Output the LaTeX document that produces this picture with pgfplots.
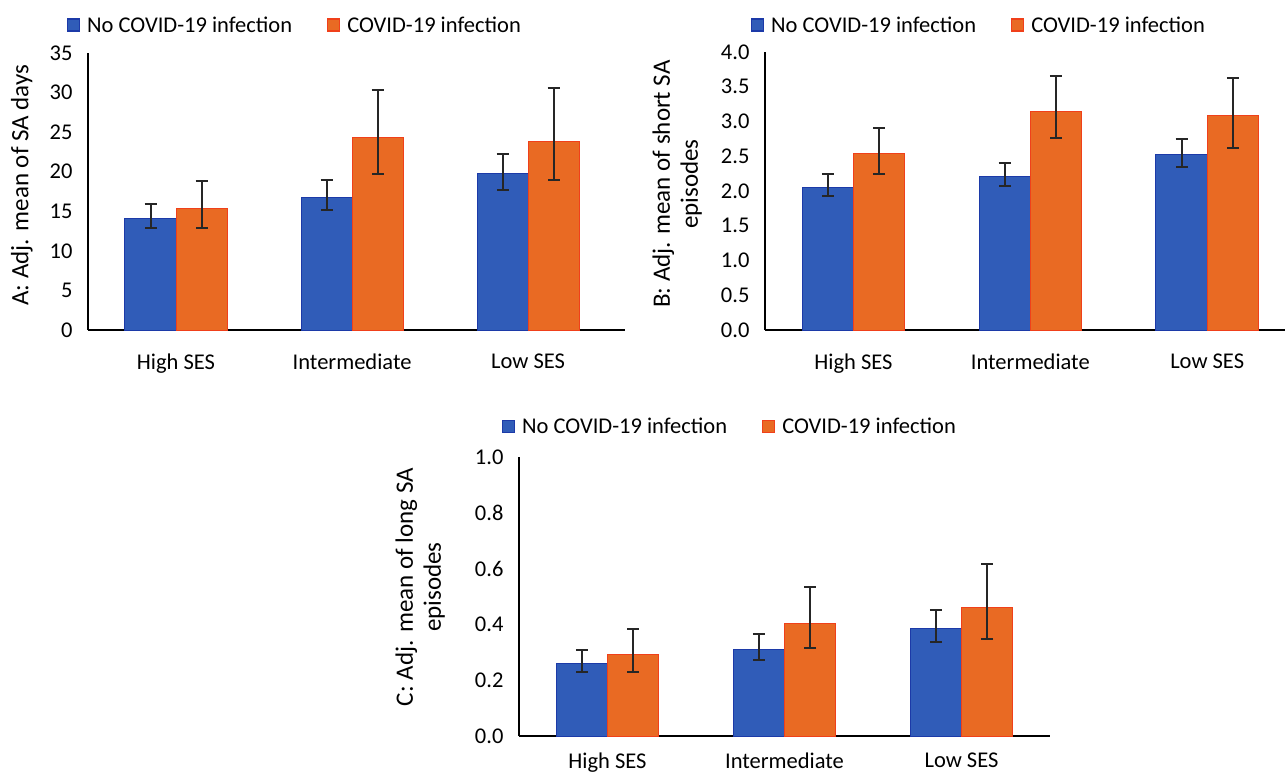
\documentclass[border=0pt]{standalone}
\usepackage{fontspec}
\setmainfont{Carlito}
\usepackage{pgfplots}
\usepackage{pgfplotstable}
\pgfplotsset{compat=1.18}
\definecolor{cblue}{HTML}{305CB8}
\definecolor{cblueE}{HTML}{1C3AA8}
\definecolor{corange}{HTML}{E96A23}
\definecolor{corangeE}{HTML}{F0401A}
\definecolor{cerr}{HTML}{262626}
\newcommand{\fs}{\fontsize{22.5}{26}\selectfont}
\newcommand{\fsl}{\fontsize{25}{28}\selectfont}

% x  no-infection (y, +err, -err)   infection (y, +err, -err)
\pgfplotstableread{
x a ap am b bp bm
0 14.1 1.8 1.25 15.4 3.4 2.55
1 16.7 2.2 1.6 24.3 6.0 4.6
2 19.75 2.55 2.05 23.8 6.8 4.8
}\dataA
\pgfplotstableread{
x a ap am b bp bm
0 2.05 0.19 0.12 2.54 0.36 0.30
1 2.21 0.19 0.14 3.15 0.50 0.39
2 2.52 0.23 0.17 3.08 0.55 0.46
}\dataB
\pgfplotstableread{
x a ap am b bp bm
0 0.26 0.049 0.032 0.292 0.09 0.064
1 0.31 0.054 0.038 0.405 0.129 0.089
2 0.386 0.067 0.048 0.46 0.155 0.111
}\dataC

\pgfplotsset{
 panel/.style={
  scale only axis, ybar, bar width=0.29, ymin=0, xmin=-0.5,
  axis x line=bottom, axis y line=left,
  axis line style={-, line width=2.5pt, black},
  major tick length=0pt, xtick={0,1,2},
  xticklabels={High SES, Intermediate, Low SES},
  tick label style={font=\fs, black},
  /pgf/number format/assume math mode=true,
  xticklabel style={yshift=-20pt}, yticklabel style={xshift=-12pt},
  ylabel style={font=\fsl, align=center, anchor=center},
  legend style={draw=none, fill=none, font=\fs, legend columns=2, anchor=west,
    /tikz/every even column/.append style={column sep=33pt}},
  clip=false,
 },
 errs/.style={
  /pgfplots/error bars/y dir=both, /pgfplots/error bars/y explicit,
  /pgfplots/error bars/error bar style={line width=2pt, cerr},
  /pgfplots/error bars/error mark options={rotate=90, mark size=6pt, line width=2pt, cerr},
 },
 blueb/.style={fill=cblue, draw=cblueE, line width=1pt, bar shift=-0.145,
   legend image code/.code={\draw[fill=cblue, draw=cblueE, line width=1.2pt] (0pt,-6pt) rectangle (12pt,6pt); \path (17pt,0pt);}, errs},
 orangeb/.style={fill=corange, draw=corangeE, line width=1pt, bar shift=0.145,
   legend image code/.code={\draw[fill=corange, draw=corangeE, line width=1.2pt] (0pt,-6pt) rectangle (12pt,6pt); \path (17pt,0pt);}, errs},
}

\begin{document}
\begin{tikzpicture}
\path[use as bounding box] (0pt,0pt) rectangle (1286pt,-774pt);

% Panel A
\begin{axis}[panel, at={(88pt,-330pt)}, anchor=south west,
  width=537pt, height=277pt, xmax=2.55, ymax=35, ytick={0,5,...,35},
  ylabel={A: Adj. mean of SA days},
  ylabel style={at={(axis description cs:-0.123,0.523)}},
  legend style={at={(axis description cs:-0.045,1.101)}}]
\addplot[blueb] table[x=x, y=a, y error plus=ap, y error minus=am] {\dataA};
\addplot[orangeb] table[x=x, y=b, y error plus=bp, y error minus=bm] {\dataA};
\legend{No COVID-19 infection, COVID-19 infection}
\end{axis}

% Panel B
\begin{axis}[panel, at={(765pt,-330pt)}, anchor=south west,
  width=520pt, height=278pt, xmax=2.44, ymax=4, ytick={0,0.5,...,4},
  yticklabel style={/pgf/number format/.cd, fixed, fixed zerofill, precision=1},
  ylabel={B: Adj. mean of short SA\\episodes},
  ylabel style={at={(axis description cs:-0.169,0.525)}},
  legend style={at={(axis description cs:-0.033,1.097)}}]
\addplot[blueb] table[x=x, y=a, y error plus=ap, y error minus=am] {\dataB};
\addplot[orangeb] table[x=x, y=b, y error plus=bp, y error minus=bm] {\dataB};
\legend{No COVID-19 infection, COVID-19 infection}
\end{axis}

% Panel C
\begin{axis}[panel, at={(519pt,-736pt)}, anchor=south west,
  width=531pt, height=279pt, xmax=2.5, ymax=1, ytick={0,0.2,...,1.0},
  yticklabel style={/pgf/number format/.cd, fixed, fixed zerofill, precision=1},
  xticklabel style={yshift=7pt},
  ylabel={C: Adj. mean of long SA\\episodes},
  ylabel style={at={(axis description cs:-0.186,0.534)}},
  legend style={at={(axis description cs:-0.038,1.108)}}]
\addplot[blueb] table[x=x, y=a, y error plus=ap, y error minus=am] {\dataC};
\addplot[orangeb] table[x=x, y=b, y error plus=bp, y error minus=bm] {\dataC};
\legend{No COVID-19 infection, COVID-19 infection}
\end{axis}
\end{tikzpicture}
\end{document}
